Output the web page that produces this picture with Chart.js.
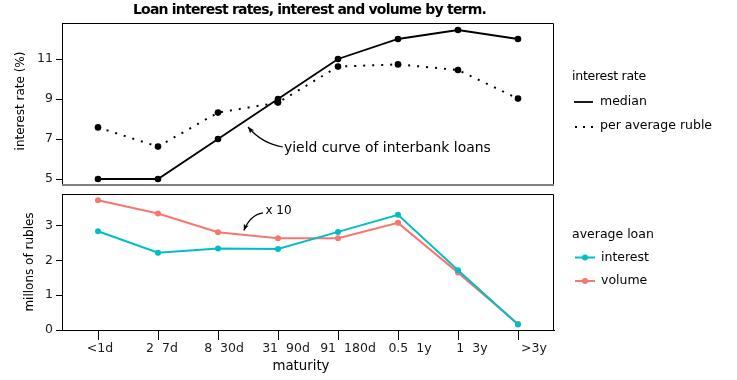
<!DOCTYPE html>
<html><head><meta charset="utf-8">
<script src="https://cdn.jsdelivr.net/npm/chart.js@4.4.1/dist/chart.umd.min.js"></script>
<style>
html,body{margin:0;padding:0;background:#fff;}
#wrap{position:relative;width:737px;height:380px;overflow:hidden;}
canvas{position:absolute;left:0;}
#c1{top:0;}
#c2{top:190px;}
</style></head><body>
<div id="wrap"><canvas id="c1" width="737" height="190" style="width:737px;height:190px"></canvas><canvas id="c2" width="737" height="190" style="width:737px;height:190px"></canvas></div>
<script>
// ---- data ----
const categories = ['<1d', '2  7d', '8  30d', '31  90d', '91  180d', '0.5  1y', '1  3y', '>3y'];
const medianRate = [5, 5, 7, 9, 11, 12, 12.45, 12];
const avgRubleRate = [7.58, 6.62, 8.32, 8.82, 10.62, 10.73, 10.45, 9.02];
const avgInterest = [2.84, 2.22, 2.34, 2.33, 2.82, 3.31, 1.72, 0.16];
const avgVolumeX10 = [3.73, 3.35, 2.81, 2.64, 2.64, 3.08, 1.65, 0.17];
const rateTicks = [5, 7, 9, 11];
const loanTicks = [0, 1, 2, 3];

const FONT = 'DejaVu Sans';
const TEAL = '#00BFC4', SALMON = '#F8766D';
Chart.defaults.font.family = FONT;
Chart.defaults.font.size = 12;
Chart.defaults.color = '#000';

const pts = arr => arr.map((v, i) => ({x: i, y: v}));

function curvedArrow(ctx, p0, c, p1) {
  ctx.save();
  ctx.strokeStyle = '#000'; ctx.fillStyle = '#000'; ctx.lineWidth = 1.2;
  ctx.beginPath(); ctx.moveTo(p0.x, p0.y); ctx.quadraticCurveTo(c.x, c.y, p1.x, p1.y); ctx.stroke();
  const ang = Math.atan2(p1.y - c.y, p1.x - c.x);
  const L = 7, W = 0.38;
  ctx.beginPath();
  ctx.moveTo(p1.x, p1.y);
  ctx.lineTo(p1.x - L * Math.cos(ang - W), p1.y - L * Math.sin(ang - W));
  ctx.lineTo(p1.x - L * 0.7 * Math.cos(ang), p1.y - L * 0.7 * Math.sin(ang));
  ctx.lineTo(p1.x - L * Math.cos(ang + W), p1.y - L * Math.sin(ang + W));
  ctx.closePath(); ctx.fill();
  ctx.restore();
}
function px(chart, x, y) {
  return {x: chart.scales.x.getPixelForValue(x), y: chart.scales.y.getPixelForValue(y)};
}
function frame(ctx, a, bottomGray) {
  ctx.save();
  ctx.lineWidth = 1; ctx.strokeStyle = '#000';
  const L = Math.round(a.left) + 0.5, R = Math.round(a.right) - 0.5, T = Math.round(a.top) + 0.5, B = Math.round(a.bottom);
  ctx.beginPath(); ctx.moveTo(L, T); ctx.lineTo(R, T); ctx.lineTo(R, B); ctx.stroke();
  if (bottomGray) {
    ctx.strokeStyle = '#7f7f7f'; ctx.lineWidth = 2;
    ctx.beginPath(); ctx.moveTo(a.left, B); ctx.lineTo(a.right, B); ctx.stroke();
  }
  ctx.restore();
}
function vtext(ctx, s, x, y) {
  ctx.save(); ctx.translate(x, y); ctx.rotate(-Math.PI / 2);
  ctx.textAlign = 'center'; ctx.textBaseline = 'middle'; ctx.fillText(s, 0, 0); ctx.restore();
}
// draw text stretched/squeezed to a given advance width via letter spacing
function fitText(ctx, s, x, y, width) {
  ctx.save();
  ctx.letterSpacing = '0px';
  const w = ctx.measureText(s).width;
  ctx.letterSpacing = ((width - w) / s.length).toFixed(2) + 'px';
  ctx.fillText(s, x, y);
  ctx.restore();
}
const noPad = s => { s.paddingTop = 0; s.paddingBottom = 0; s.paddingLeft = 0; s.paddingRight = 0; };

const topDeco = {
  id: 'topDeco',
  afterDraw(chart) {
    const ctx = chart.ctx, a = chart.chartArea;
    frame(ctx, a, true);
    ctx.save();
    ctx.fillStyle = '#000';
    ctx.font = 'bold 14px ' + FONT;
    ctx.textAlign = 'left'; ctx.textBaseline = 'middle';
    fitText(ctx, 'Loan interest rates, interest and volume by term.', 133, 10, 353);
    ctx.font = '12px ' + FONT;
    vtext(ctx, 'interest rate (%)', 21, 101);
    // annotation
    ctx.textAlign = 'left';
    ctx.font = '13.9px ' + FONT;
    const tp = px(chart, 3.1, 6.55);
    ctx.fillText('yield curve of interbank loans', tp.x, tp.y);
    curvedArrow(ctx, px(chart, 3.08, 6.6), px(chart, 2.73, 6.78), px(chart, 2.5, 7.6));
    // legend
    ctx.font = '12.5px ' + FONT;
    fitText(ctx, 'interest rate', 572, 77, 74);
    ctx.fillText('median', 600, 101.5);
    ctx.fillText('per average ruble', 600, 126);
    ctx.strokeStyle = '#000'; ctx.lineWidth = 1.8;
    ctx.beginPath(); ctx.moveTo(574, 102); ctx.lineTo(593, 102); ctx.stroke();
    ctx.setLineDash([2, 6]); ctx.lineWidth = 2;
    ctx.beginPath(); ctx.moveTo(575, 127); ctx.lineTo(594, 127); ctx.stroke();
    ctx.restore();
  }
};

const botDeco = {
  id: 'botDeco',
  afterDraw(chart) {
    const ctx = chart.ctx, a = chart.chartArea;
    frame(ctx, a, false);
    ctx.save();
    ctx.fillStyle = '#000';
    ctx.font = '12px ' + FONT;
    vtext(ctx, 'millons of rubles', 30, 72);
    ctx.textAlign = 'center'; ctx.textBaseline = 'middle';
    ctx.font = '13.3px ' + FONT;
    ctx.fillText('maturity', 301, 177);
    ctx.textAlign = 'left';
    ctx.font = '12px ' + FONT;
    const tp = px(chart, 2.79, 3.43);
    ctx.fillText('x 10', tp.x, tp.y);
    curvedArrow(ctx, px(chart, 2.75, 3.37), px(chart, 2.54, 3.32), px(chart, 2.43, 2.86));
    // legend
    ctx.font = '12.5px ' + FONT;
    ctx.fillText('average loan', 572, 45);
    ctx.fillText('interest', 601, 67.5);
    ctx.fillText('volume', 601, 91);
    [[TEAL, 67.5], [SALMON, 91]].forEach(([c, y]) => {
      ctx.strokeStyle = c; ctx.fillStyle = c; ctx.lineWidth = 2;
      ctx.beginPath(); ctx.moveTo(575, y); ctx.lineTo(595, y); ctx.stroke();
      ctx.beginPath(); ctx.arc(585, y, 3, 0, Math.PI * 2); ctx.fill();
    });
    ctx.restore();
  }
};

const yAxis = (min, max, ticks) => ({
  type: 'linear', min, max,
  afterFit: s => { s.width = 62; noPad(s); },
  afterBuildTicks: s => { s.ticks = ticks.map(v => ({value: v})); },
  grid: {drawOnChartArea: false, tickLength: 6, color: '#000', tickWidth: 1},
  border: {color: '#000', width: 1},
  ticks: {padding: 3, color: '#1a1a1a', font: {size: 12.5}}
});

new Chart(document.getElementById('c1'), {
  type: 'line',
  data: {datasets: [
    {label: 'median', data: pts(medianRate), borderColor: '#000', backgroundColor: '#000', borderWidth: 1.8,
     pointRadius: 3.3, pointBorderWidth: 0, pointBackgroundColor: '#000', tension: 0},
    {label: 'per average ruble', data: pts(avgRubleRate), borderColor: '#000', backgroundColor: '#000', borderWidth: 2,
     borderDash: [2, 7], pointRadius: 3.3, pointBorderWidth: 0, pointBackgroundColor: '#000', tension: 0}
  ]},
  options: {
    responsive: false, animation: false, events: [],
    layout: {padding: {left: 0, right: 183, top: 23, bottom: 5}},
    plugins: {legend: {display: false}, tooltip: {enabled: false}},
    scales: {
      x: {type: 'linear', min: -0.6, max: 7.6, display: false, afterFit: noPad},
      y: yAxis(4.7, 12.8, rateTicks)
    }
  },
  plugins: [topDeco]
});

new Chart(document.getElementById('c2'), {
  type: 'line',
  data: {datasets: [
    {label: 'interest', data: pts(avgInterest), borderColor: TEAL, backgroundColor: TEAL, borderWidth: 2,
     pointRadius: 3, pointBorderWidth: 0, pointBackgroundColor: TEAL, tension: 0},
    {label: 'volume', data: pts(avgVolumeX10), borderColor: SALMON, backgroundColor: SALMON, borderWidth: 2,
     pointRadius: 3, pointBorderWidth: 0, pointBackgroundColor: SALMON, tension: 0}
  ]},
  options: {
    responsive: false, animation: false, events: [],
    layout: {padding: {left: 0, right: 183, top: 3, bottom: 0}},
    plugins: {legend: {display: false}, tooltip: {enabled: false}},
    scales: {
      x: {type: 'linear', position: 'bottom', min: -0.6, max: 7.6, weight: 0,
          afterBuildTicks: s => { s.ticks = categories.map((c, i) => ({value: i})); },
          afterFit: s => { s.height = 10; noPad(s); },
          ticks: {display: false},
          grid: {drawOnChartArea: false, tickLength: 10, color: '#000', tickWidth: 1},
          border: {color: '#000', width: 1}},
      xl: {type: 'linear', position: 'bottom', min: -0.613, max: 7.323, weight: 1,
          afterBuildTicks: s => { s.ticks = categories.map((c, i) => ({value: i})); },
          afterFit: s => { s.height = 40; noPad(s); },
          grid: {display: false, drawTicks: false},
          border: {display: false},
          ticks: {padding: 1, maxRotation: 0, minRotation: 0, autoSkip: false, color: '#1a1a1a',
                  font: {size: 12.5}, callback: v => categories[v]}},
      y: yAxis(0, 3.91, loanTicks)
    }
  },
  plugins: [botDeco]
});
</script>
</body></html>
